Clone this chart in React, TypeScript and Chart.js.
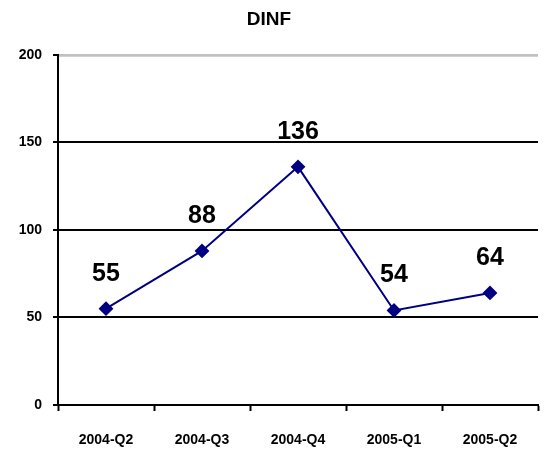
import React, { useEffect, useRef } from "react";
import { Chart, registerables } from "chart.js";

Chart.register(...registerables);

const categories = ["2004-Q2", "2004-Q3", "2004-Q4", "2005-Q1", "2005-Q2"];
const values = [55, 88, 136, 54, 64];
const yTicks = [0, 50, 100, 150, 200];
const titleText = "DINF";

const FONT = "'Liberation Sans', Arial, sans-serif";

const labelPlugin = {
  id: "pointLabels",
  afterDatasetsDraw(chart: any) {
    const ctx = chart.ctx;
    const meta = chart.getDatasetMeta(0);
    ctx.save();
    ctx.font = `bold 25px ${FONT}`;
    ctx.fillStyle = "#000";
    ctx.textAlign = "center";
    ctx.textBaseline = "alphabetic";
    meta.data.forEach((pt: any, i: number) => {
      ctx.fillText(String(values[i]), pt.x, pt.y - 28);
    });
    ctx.restore();
  },
};

const topLinePlugin = {
  id: "topGridLine",
  beforeDatasetsDraw(chart: any) {
    const ctx = chart.ctx;
    const y = chart.scales.y.getPixelForValue(yTicks[yTicks.length - 1]);
    const { left, right } = chart.chartArea;
    ctx.save();
    ctx.strokeStyle = "#c0c0c0";
    ctx.lineWidth = 2;
    ctx.beginPath();
    ctx.moveTo(left + 1, y + 1);
    ctx.lineTo(right, y + 1);
    ctx.stroke();
    ctx.restore();
  },
};

export default function App() {
  const ref = useRef<HTMLCanvasElement>(null);
  useEffect(() => {
    if (!ref.current) return;
    const chart = new Chart(ref.current, {
      type: "line",
      data: {
        labels: categories,
        datasets: [
          {
            data: values,
            borderColor: "#000080",
            backgroundColor: "#000080",
            borderWidth: 2,
            pointStyle: "rectRot",
            pointRadius: 6,
            pointHoverRadius: 6,
            tension: 0,
          },
        ],
      },
      options: {
        animation: false,
        responsive: false,
        events: [],
        layout: { padding: { left: 0, right: 9, top: 0, bottom: 0 } },
        plugins: {
          legend: { display: false },
          tooltip: { enabled: false },
          title: {
            display: true,
            text: titleText,
            color: "#000",
            font: { family: FONT, size: 19, weight: "bold", lineHeight: 1.2 },
            padding: { top: 8, bottom: 24 },
          },
        },
        scales: {
          x: {
            offset: true,
            grid: {
              offset: true,
              drawOnChartArea: false,
              drawTicks: true,
              tickLength: 6,
              tickColor: "#000",
              tickWidth: 2,
            },
            border: { color: "#000", width: 2 },
            ticks: {
              color: "#000",
              font: { family: FONT, size: 14, weight: "bold" },
              padding: 21,
              maxRotation: 0,
            },
            afterFit(scale: any) {
              scale.height = 46;
            },
          },
          y: {
            min: 0,
            max: 200,
            afterBuildTicks(scale: any) {
              scale.ticks = yTicks.map((v) => ({ value: v }));
            },
            grid: {
              color: (c: any) =>
                c.tick && c.tick.value === 200 ? "#c0c0c0" : "#000",
              lineWidth: 2,
              tickLength: 5,
              tickColor: "#000",
              tickWidth: 2,
            },
            border: { color: "#000", width: 2 },
            ticks: {
              color: "#000",
              font: { family: FONT, size: 14, weight: "bold" },
              padding: 11,
            },
            afterFit(scale: any) {
              scale.width = 58;
            },
          },
        },
      },
      plugins: [labelPlugin, topLinePlugin],
    });
    return () => chart.destroy();
  }, []);
  return (
    <div style={{ position: "fixed", left: 0, top: 0, width: 547, height: 451, background: "#fff" }}>
      <canvas ref={ref} width={547} height={451} />
    </div>
  );
}
